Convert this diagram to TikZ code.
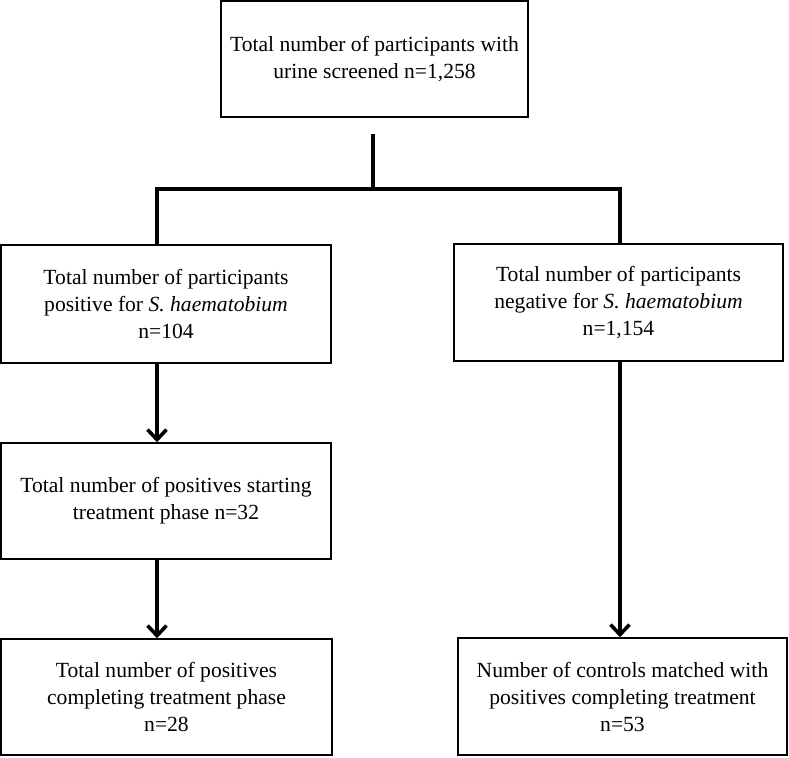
\documentclass[tikz,border=0pt]{standalone}
\usepackage{fontspec}
\setmainfont{Liberation Serif}
\usetikzlibrary{arrows.meta}

\begin{document}
\begin{tikzpicture}[
    x=1pt, y=-1pt,
    box/.style={rectangle, draw, line width=1.6pt, align=center, inner sep=0pt},
    link/.style={draw, line width=3.6pt},
    arrow/.style={draw, line width=3.6pt, -{Straight Barb[length=10pt, width=19pt]}},
    every node/.style={font=\fontsize{21.6}{27}\selectfont}
]
\useasboundingbox (0,0) rectangle (789,757);

% Boxes
\node[box, minimum width=307pt, minimum height=116pt] (screened) at (374.5,59)
    {Total number of participants with\\urine screened n=1,258};
\node[box, minimum width=330pt, minimum height=118pt] (positive) at (166,304)
    {Total number of participants\\positive for \textit{S. haematobium}\\n=104};
\node[box, minimum width=329pt, minimum height=117pt] (negative) at (618.5,302.5)
    {Total number of participants\\negative for \textit{S. haematobium}\\n=1,154};
\node[box, minimum width=330pt, minimum height=116pt] (starting) at (166,501)
    {Total number of positives starting\\treatment phase n=32};
\node[box, minimum width=331pt, minimum height=116pt] (completing) at (166.5,697)
    {Total number of positives\\completing treatment phase\\n=28};
\node[box, minimum width=329pt, minimum height=117pt] (controls) at (622.5,696.5)
    {Number of controls matched with\\positives completing treatment\\n=53};

% Columns of the connectors
\coordinate (lcol) at (157,0);
\coordinate (rcol) at (620,0);

% Split
\draw[link] ([xshift=-1.5pt, yshift=-16pt]screened.south) -- ++(0,55) coordinate (fork);
\draw[link] (positive.north -| lcol) |- (fork -| rcol) -- (negative.north -| rcol);

% Arrows
\draw[arrow] (positive.south -| lcol) -- (starting.north -| lcol);
\draw[arrow] (starting.south -| lcol) -- (completing.north -| lcol);
\draw[arrow] (negative.south -| rcol) -- (controls.north -| rcol);

\end{tikzpicture}
\end{document}
